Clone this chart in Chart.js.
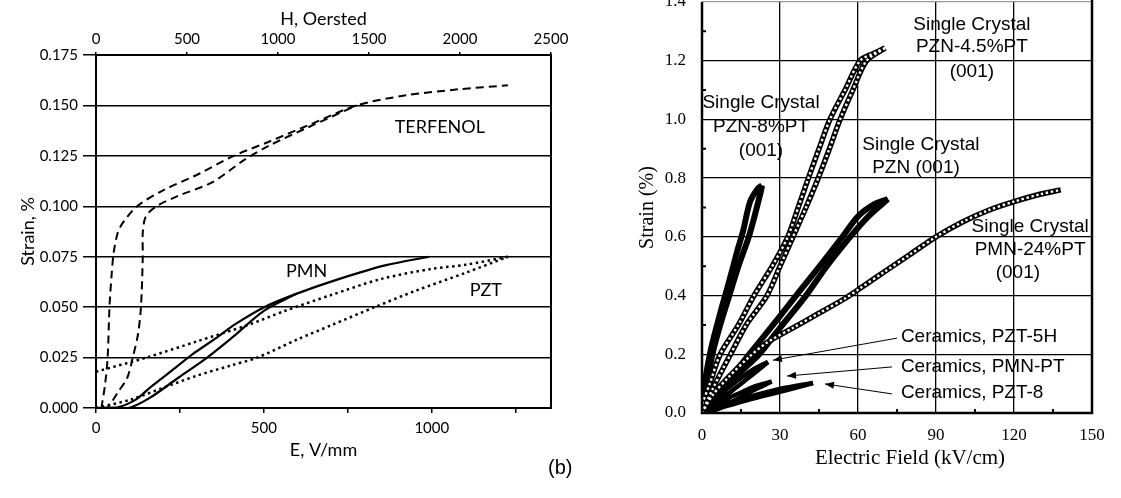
<!DOCTYPE html>
<html><head><meta charset="utf-8">
<script src="https://cdn.jsdelivr.net/npm/chart.js@4.4.1/dist/chart.umd.min.js"></script>
<style>
html,body{margin:0;padding:0;background:#fff;width:1121px;height:498px;overflow:hidden;position:relative;}
#cl{position:absolute;left:0;top:0;}
#cr{position:absolute;left:600px;top:0;}
#b{position:absolute;left:548px;top:456px;font:20px "Liberation Sans",Arial,sans-serif;color:#000;}
</style></head><body>
<canvas id="cl" width="580" height="470"></canvas>
<canvas id="cr" width="521" height="498"></canvas>
<div id="b">(b)</div>
<script>
// ---------- LEFT PANEL DATA ----------
// Terfenol (vs H, Oersted)
const terfOuterH = [30, 35, 50, 64, 74, 85, 97, 120, 149, 226, 371, 564, 757, 950, 1162, 1432, 1703, 1992, 2263];
const terfOuterS = [0, 0.003, 0.0117, 0.025, 0.05, 0.065, 0.077, 0.087, 0.092, 0.100, 0.108, 0.116, 0.125, 0.132, 0.140, 0.150, 0.155, 0.158, 0.160];
const terfInnerH = [40, 64, 124, 172, 202, 231, 247, 257, 257, 274, 332, 448, 641, 815, 950, 1162, 1432];
const terfInnerS = [0, 0.0003, 0.0083, 0.015, 0.025, 0.0367, 0.05, 0.075, 0.087, 0.095, 0.100, 0.105, 0.112, 0.123, 0.130, 0.139, 0.150];
// PMN (vs E, V/mm)
const pmnUpE = [0, 64, 117, 160, 224, 288, 352, 416, 501, 598, 725, 864, 992];
const pmnUpS = [0, 0.0003, 0.004, 0.01, 0.0183, 0.0267, 0.034, 0.0417, 0.05, 0.0567, 0.064, 0.0708, 0.075];
const pmnLowE = [0, 96, 160, 245, 331, 406, 501, 598];
const pmnLowS = [0, 0, 0.005, 0.015, 0.025, 0.035, 0.0483, 0.0567];
// PZT (vs E, V/mm)
const pztUpE = [0, 150, 300, 450, 560, 700, 850, 1000, 1100, 1227];
const pztUpS = [0.018, 0.025, 0.033, 0.041, 0.048, 0.056, 0.064, 0.069, 0.071, 0.075];
const pztLowE = [0, 100, 200, 300, 400, 480, 600, 700, 830, 950, 1100, 1227];
const pztLowS = [0, 0.004, 0.01, 0.016, 0.021, 0.025, 0.034, 0.041, 0.05, 0.058, 0.067, 0.075];
const leftYTicks = [0, 0.025, 0.05, 0.075, 0.1, 0.125, 0.15, 0.175];

// ---------- RIGHT PANEL DATA (Electric field kV/cm, strain %) ----------
const pzn45UpX = [0, 4, 8, 11, 17, 25, 30, 35, 40, 44.7, 49, 53.1, 58, 63.3, 70.4];
const pzn45UpY = [0, 0.08, 0.15, 0.2, 0.3, 0.4, 0.5, 0.6, 0.7, 0.8, 0.9, 1.0, 1.1, 1.2, 1.243];
const pzn45DnX = [70.4, 66, 60.8, 55, 49.2, 45, 40.9, 37, 33, 27, 20, 14, 7, 3, 0];
const pzn45DnY = [1.243, 1.225, 1.2, 1.1, 1.0, 0.9, 0.8, 0.7, 0.6, 0.5, 0.4, 0.3, 0.2, 0.1, 0.03];
const pzn8UpX = [0, 2, 4, 7, 10.5, 14, 18, 20.5, 22.5, 23.1];
const pzn8UpY = [0, 0.1, 0.2, 0.3, 0.4, 0.5, 0.6, 0.68, 0.75, 0.775];
const pzn8DnX = [23.1, 21.5, 18.5, 15.8, 13.5, 10.5, 7, 3.5, 1, 0];
const pzn8DnY = [0.775, 0.765, 0.72, 0.62, 0.55, 0.45, 0.34, 0.22, 0.1, 0.02];
const pznUpX = [0, 5, 10, 15, 22, 30, 40, 48, 57, 64, 71.5];
const pznUpY = [0, 0.04, 0.09, 0.14, 0.2, 0.29, 0.4, 0.5, 0.6, 0.67, 0.729];
const pznDnX = [71.5, 66, 60, 54, 47, 38, 30, 20, 10, 4, 0];
const pznDnY = [0.729, 0.71, 0.67, 0.6, 0.52, 0.42, 0.33, 0.22, 0.11, 0.04, 0];
const pmn24X = [0, 4, 10, 18, 25, 35, 45, 55, 60, 70, 80, 90, 100, 110, 120, 130, 138];
const pmn24Y = [0, 0.06, 0.12, 0.19, 0.24, 0.29, 0.34, 0.39, 0.42, 0.48, 0.54, 0.6, 0.65, 0.69, 0.72, 0.745, 0.76];
const pzt5hUpX = [0, 5, 10, 15, 20, 25.4];
const pzt5hUpY = [0, 0.03, 0.065, 0.1, 0.135, 0.174];
const pzt5hDnX = [25.4, 20, 15, 10, 5, 0];
const pzt5hDnY = [0.174, 0.15, 0.12, 0.085, 0.05, 0.01];
const pmnptUpX = [0, 5, 10, 15, 20, 26.8];
const pmnptUpY = [0, 0.01, 0.03, 0.055, 0.078, 0.107];
const pmnptDnX = [26.8, 20, 15, 10, 5, 0];
const pmnptDnY = [0.107, 0.09, 0.07, 0.05, 0.025, 0.005];
const pzt8UpX = [0, 10, 20, 30, 42.7];
const pzt8UpY = [0, 0.025, 0.05, 0.072, 0.102];
const pzt8DnX = [42.7, 30, 20, 10, 0];
const pzt8DnY = [0.102, 0.082, 0.06, 0.035, 0.005];
const rightMinorX = [15, 45, 75, 105, 135];
const rightMinorY = [0.1, 0.3, 0.5, 0.7, 0.9, 1.1, 1.3];

const zip = (xs, ys) => xs.map((x, i) => ({x: x, y: ys[i]}));

// ---------- fonts ----------
const gill = '"Lato","Open Sans",sans-serif';
const serif = '"Liberation Serif","Times New Roman",serif';
const arial = '"Liberation Sans",Arial,sans-serif';

// ---------- annotation plugin ----------
function annotPlugin(id, labels, arrows) {
  return {
    id: id,
    afterDatasetsDraw(chart) {
      const ctx = chart.ctx;
      ctx.save();
      ctx.fillStyle = '#000';
      ctx.textBaseline = 'middle';
      labels.forEach(l => {
        const xs = chart.scales[l.xa || 'x'], ys = chart.scales.y;
        ctx.font = l.font;
        ctx.textAlign = l.align || 'center';
        ctx.fillText(l.text, xs.getPixelForValue(l.x), ys.getPixelForValue(l.y));
      });
      ctx.strokeStyle = '#000';
      ctx.lineWidth = 1;
      arrows.forEach(a => {
        const xs = chart.scales.x, ys = chart.scales.y;
        const x0 = xs.getPixelForValue(a.from[0]), y0 = ys.getPixelForValue(a.from[1]);
        const x1 = xs.getPixelForValue(a.to[0]), y1 = ys.getPixelForValue(a.to[1]);
        ctx.beginPath(); ctx.moveTo(x0, y0); ctx.lineTo(x1, y1); ctx.stroke();
        const ang = Math.atan2(y1 - y0, x1 - x0), L = 9, W = 3.5;
        ctx.beginPath();
        ctx.moveTo(x1, y1);
        ctx.lineTo(x1 - L * Math.cos(ang) + W * Math.sin(ang), y1 - L * Math.sin(ang) - W * Math.cos(ang));
        ctx.lineTo(x1 - L * Math.cos(ang) - W * Math.sin(ang), y1 - L * Math.sin(ang) + W * Math.cos(ang));
        ctx.closePath(); ctx.fill();
      });
      ctx.restore();
    }
  };
}

// frame for left panel
const frameLeft = {
  id: 'frameLeft',
  afterDatasetsDraw(chart) {
    const a = chart.chartArea, ctx = chart.ctx;
    ctx.save(); ctx.strokeStyle = '#000'; ctx.lineWidth = 2;
    ctx.strokeRect(a.left, a.top, a.right - a.left, a.bottom - a.top);
    ctx.restore();
  }
};
const frameRight = {
  id: 'frameRight',
  afterDatasetsDraw(chart) {
    const a = chart.chartArea, ctx = chart.ctx;
    const xs = chart.scales.x, ys = chart.scales.y;
    ctx.save();
    ctx.strokeStyle = '#000'; ctx.lineWidth = 2.5;
    ctx.beginPath();
    ctx.moveTo(a.left, a.top); ctx.lineTo(a.left, a.bottom); ctx.lineTo(a.right, a.bottom); ctx.lineTo(a.right, a.top - 2);
    ctx.stroke();
    ctx.lineWidth = 2;
    ctx.beginPath();
    rightMinorY.forEach(v => { const y = ys.getPixelForValue(v); ctx.moveTo(a.left, y); ctx.lineTo(a.left + 4, y); });
    rightMinorX.forEach(v => { const x = xs.getPixelForValue(v); ctx.moveTo(x, a.bottom); ctx.lineTo(x, a.bottom - 4); });
    ctx.stroke();
    // x-axis title, slightly right of centre as in the original
    ctx.fillStyle = '#000'; ctx.font = '21px ' + serif; ctx.textAlign = 'center'; ctx.textBaseline = 'middle';
    ctx.fillText('Electric Field (kV/cm)', (a.left + a.right) / 2 + 13, 458);
    ctx.restore();
  }
};

// ---------- LEFT CHART ----------
const dashed = {borderColor: '#000', borderWidth: 2, borderDash: [8, 5], pointRadius: 0, tension: 0.3, fill: false};
const solid = {borderColor: '#000', borderWidth: 2.2, pointRadius: 0, tension: 0.3, fill: false};
const dotted = {borderColor: '#000', borderWidth: 2.5, borderDash: [2.5, 3.5], pointRadius: 0, tension: 0.3, fill: false};

const leftLabels = [
  {text: 'TERFENOL', x: 1024, y: 0.1394, font: '18px ' + gill},
  {text: 'PMN', x: 627, y: 0.068, font: '18px ' + gill},
  {text: 'PZT', x: 1161, y: 0.0585, font: '18px ' + gill}
];

new Chart(document.getElementById('cl'), {
  type: 'line',
  data: {datasets: [
    Object.assign({label: 'TERFENOL a', data: zip(terfOuterH, terfOuterS), xAxisID: 'x2'}, dashed),
    Object.assign({label: 'TERFENOL b', data: zip(terfInnerH, terfInnerS), xAxisID: 'x2'}, dashed),
    Object.assign({label: 'PMN a', data: zip(pmnUpE, pmnUpS), xAxisID: 'x'}, solid),
    Object.assign({label: 'PMN b', data: zip(pmnLowE, pmnLowS), xAxisID: 'x'}, solid),
    Object.assign({label: 'PZT a', data: zip(pztUpE, pztUpS), xAxisID: 'x'}, dotted),
    Object.assign({label: 'PZT b', data: zip(pztLowE, pztLowS), xAxisID: 'x'}, dotted)
  ]},
  options: {
    responsive: false, animation: false,
    plugins: {legend: {display: false}, tooltip: {enabled: false}},
    layout: {padding: {left: 0, right: 29, top: 0, bottom: 0}},
    scales: {
      x: {type: 'linear', position: 'bottom', min: 0, max: 1355,
        ticks: {stepSize: 250, includeBounds: false, autoSkip: false, maxRotation: 0, color: '#000', padding: 6,
          font: {family: gill, size: 15}, callback: v => (v % 500 === 0 ? String(v) : '')},
        grid: {drawOnChartArea: false, drawTicks: true, tickLength: 5, color: '#000', lineWidth: 1.5},
        border: {display: false},
        title: {display: true, text: 'E, V/mm', color: '#000', font: {family: gill, size: 18}, padding: {top: 0, bottom: 9}},
        afterFit: s => { s.height = 62; }},
      x2: {type: 'linear', position: 'top', min: 0, max: 2500,
        ticks: {stepSize: 500, autoSkip: false, maxRotation: 0, color: '#000', padding: 4, font: {family: gill, size: 15},
          callback: v => String(v)},
        grid: {drawOnChartArea: false, drawTicks: true, tickLength: 3, color: '#000', lineWidth: 1.5},
        border: {display: false},
        title: {display: true, text: 'H, Oersted', color: '#000', font: {family: gill, size: 18}, padding: {top: 8, bottom: 0}},
        afterFit: s => { s.height = 55; }},
      y: {type: 'linear', position: 'left', min: 0, max: 0.175,
        afterBuildTicks: s => { s.ticks = leftYTicks.map(v => ({value: v})); },
        ticks: {color: '#000', padding: 5, font: {family: gill, size: 15}, callback: v => Number(v).toFixed(3)},
        grid: {color: '#000', lineWidth: 1.5, tickLength: 13},
        border: {display: false},
        title: {display: true, text: 'Strain, %', color: '#000', font: {family: gill, size: 18}, padding: {top: 17, bottom: 0}},
        afterFit: s => { s.width = 96; }}
    }
  },
  plugins: [frameLeft, annotPlugin('annL', leftLabels, [])]
});

// ---------- RIGHT CHART ----------
const thick = {borderColor: '#000', borderWidth: 6, pointRadius: 0, tension: 0.3, fill: false, order: 2};
const chainBase = {borderColor: '#000', borderWidth: 5.5, pointRadius: 0, tension: 0.3, fill: false, order: 2};
const chainHole = {borderColor: '#fff', borderWidth: 2.4, borderDash: [2.4, 2.6], pointRadius: 0, tension: 0.3, fill: false, order: 1};
const ceram = {borderColor: '#000', borderWidth: 4.5, pointRadius: 0, tension: 0.3, fill: false, order: 2};

const rightLabels = [
  {text: 'Single Crystal', x: 103.8, y: 1.321, font: '19px ' + arial},
  {text: 'PZN-4.5%PT', x: 103.8, y: 1.247, font: '19px ' + arial},
  {text: '(001)', x: 103.8, y: 1.161, font: '19px ' + arial},
  {text: 'Single Crystal', x: 22.7, y: 1.056, font: '19px ' + arial},
  {text: 'PZN-8%PT', x: 22.7, y: 0.974, font: '19px ' + arial},
  {text: '(001)', x: 22.7, y: 0.892, font: '19px ' + arial},
  {text: 'Single Crystal', x: 84.2, y: 0.913, font: '19px ' + arial},
  {text: 'PZN (001)', x: 82.3, y: 0.834, font: '19px ' + arial},
  {text: 'Single Crystal', x: 126.2, y: 0.634, font: '19px ' + arial},
  {text: 'PMN-24%PT', x: 126.2, y: 0.555, font: '19px ' + arial},
  {text: '(001)', x: 121.5, y: 0.477, font: '19px ' + arial},
  {text: 'Ceramics, PZT-5H', x: 76.5, y: 0.259, font: '19px ' + arial, align: 'left'},
  {text: 'Ceramics, PMN-PT', x: 76.5, y: 0.157, font: '19px ' + arial, align: 'left'},
  {text: 'Ceramics, PZT-8', x: 76.5, y: 0.068, font: '19px ' + arial, align: 'left'}
];
const rightArrows = [
  {from: [75, 0.255], to: [27.3, 0.18]},
  {from: [73.1, 0.157], to: [32.7, 0.126]},
  {from: [73.1, 0.065], to: [47.3, 0.099]}
];

const rightSets = [];
function chain(label, xs, ys) {
  rightSets.push(Object.assign({label: label, data: zip(xs, ys)}, chainBase));
  rightSets.push(Object.assign({label: label + ' hole', data: zip(xs, ys)}, chainHole));
}
chain('PZN-4.5%PT up', pzn45UpX, pzn45UpY);
chain('PZN-4.5%PT down', pzn45DnX, pzn45DnY);
chain('PMN-24%PT', pmn24X, pmn24Y);
rightSets.push(Object.assign({label: 'PZN-8%PT up', data: zip(pzn8UpX, pzn8UpY)}, thick));
rightSets.push(Object.assign({label: 'PZN-8%PT down', data: zip(pzn8DnX, pzn8DnY)}, thick));
rightSets.push(Object.assign({label: 'PZN up', data: zip(pznUpX, pznUpY)}, thick));
rightSets.push(Object.assign({label: 'PZN down', data: zip(pznDnX, pznDnY)}, thick));
rightSets.push(Object.assign({label: 'PZT-5H up', data: zip(pzt5hUpX, pzt5hUpY)}, ceram));
rightSets.push(Object.assign({label: 'PZT-5H down', data: zip(pzt5hDnX, pzt5hDnY)}, ceram));
rightSets.push(Object.assign({label: 'PMN-PT up', data: zip(pmnptUpX, pmnptUpY)}, ceram));
rightSets.push(Object.assign({label: 'PMN-PT down', data: zip(pmnptDnX, pmnptDnY)}, ceram));
rightSets.push(Object.assign({label: 'PZT-8 up', data: zip(pzt8UpX, pzt8UpY)}, ceram));
rightSets.push(Object.assign({label: 'PZT-8 down', data: zip(pzt8DnX, pzt8DnY)}, ceram));

new Chart(document.getElementById('cr'), {
  type: 'line',
  data: {datasets: rightSets},
  options: {
    responsive: false, animation: false,
    plugins: {legend: {display: false}, tooltip: {enabled: false}},
    layout: {padding: {left: 0, right: 29, top: 2, bottom: 0}},
    scales: {
      x: {type: 'linear', position: 'bottom', min: 0, max: 150,
        ticks: {stepSize: 30, autoSkip: false, maxRotation: 0, color: '#000', padding: 12, font: {family: serif, size: 17}},
        grid: {color: '#000', lineWidth: 1.3, drawTicks: false},
        border: {display: false},
        title: {display: false},
        afterFit: s => { s.height = 85; s.paddingLeft = 0; s.paddingRight = 0; }},
      y: {type: 'linear', position: 'left', min: 0, max: 1.4,
        ticks: {stepSize: 0.2, color: '#000', padding: 16, font: {family: serif, size: 17}, callback: v => Number(v).toFixed(1)},
        grid: {color: c => (c.tick && c.tick.value > 1.39 ? '#999' : '#000'), lineWidth: 1.3, drawTicks: false},
        border: {display: false},
        title: {display: true, text: 'Strain (%)', color: '#000', font: {family: serif, size: 20}, padding: {top: 36, bottom: 0}},
        afterFit: s => { s.width = 102; s.paddingTop = 0; s.paddingBottom = 0; }}
    }
  },
  plugins: [frameRight, annotPlugin('annR', rightLabels, rightArrows)]
});
</script>
</body></html>
